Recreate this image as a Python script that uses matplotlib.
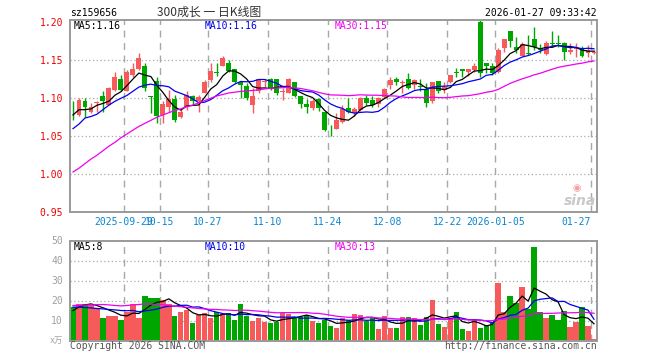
import numpy as np
import pandas as pd
import matplotlib
matplotlib.use("Agg")
import matplotlib.pyplot as plt

# daily candles 2025-09-16 .. 2026-01-27 (index 0..87), price in CNY
opens = [1.084, 1.077, 1.095, 1.081, 1.093, 1.102, 1.090, 1.110, 1.124, 1.108,
         1.129, 1.137, 1.141, 1.102, 1.122, 1.077, 1.088, 1.098, 1.074, 1.087,
         1.102, 1.095, 1.106, 1.123, 1.134, 1.142, 1.146, 1.137, 1.121, 1.115,
         1.090, 1.108, 1.120, 1.125, 1.124, 1.107, 1.106, 1.120, 1.102, 1.091,
         1.086, 1.098, 1.081, 1.059, 1.059, 1.068, 1.086, 1.079, 1.084, 1.100,
         1.097, 1.092, 1.101, 1.116, 1.124, 1.119, 1.124, 1.116, 1.115, 1.111,
         1.095, 1.122, 1.110, 1.120, 1.133, 1.137, 1.134, 1.136, 1.199, 1.145,
         1.141, 1.134, 1.165, 1.188, 1.166, 1.154, 1.159, 1.177, 1.164, 1.157,
         1.172, 1.171, 1.172, 1.160, 1.164, 1.165, 1.159, 1.1585]
highs = [1.095, 1.099, 1.099, 1.093, 1.095, 1.109, 1.114, 1.133, 1.130, 1.136,
         1.145, 1.159, 1.146, 1.102, 1.127, 1.095, 1.110, 1.103, 1.086, 1.108,
         1.103, 1.103, 1.123, 1.145, 1.146, 1.154, 1.150, 1.138, 1.121, 1.119,
         1.112, 1.125, 1.125, 1.126, 1.125, 1.113, 1.126, 1.121, 1.102, 1.098,
         1.098, 1.099, 1.081, 1.064, 1.079, 1.090, 1.099, 1.087, 1.101, 1.103,
         1.102, 1.101, 1.112, 1.127, 1.127, 1.123, 1.132, 1.125, 1.125, 1.119,
         1.121, 1.122, 1.120, 1.130, 1.139, 1.137, 1.138, 1.146, 1.202, 1.146,
         1.145, 1.165, 1.177, 1.188, 1.180, 1.173, 1.182, 1.193, 1.170, 1.174,
         1.187, 1.182, 1.173, 1.172, 1.172, 1.168, 1.169, 1.163]
lows = [1.071, 1.076, 1.075, 1.079, 1.081, 1.081, 1.090, 1.108, 1.108, 1.108,
        1.127, 1.136, 1.108, 1.079, 1.067, 1.066, 1.081, 1.068, 1.073, 1.084,
        1.090, 1.081, 1.106, 1.121, 1.128, 1.141, 1.134, 1.119, 1.099, 1.097,
        1.080, 1.106, 1.114, 1.110, 1.103, 1.097, 1.106, 1.101, 1.086, 1.079,
        1.084, 1.082, 1.056, 1.049, 1.058, 1.067, 1.079, 1.076, 1.082, 1.090,
        1.087, 1.088, 1.099, 1.111, 1.116, 1.106, 1.111, 1.111, 1.108, 1.088,
        1.093, 1.106, 1.106, 1.119, 1.127, 1.127, 1.128, 1.134, 1.127, 1.132,
        1.130, 1.132, 1.160, 1.166, 1.158, 1.154, 1.156, 1.162, 1.158, 1.156,
        1.166, 1.166, 1.150, 1.157, 1.153, 1.153, 1.153, 1.157]
closes = [1.083, 1.097, 1.088, 1.087, 1.094, 1.095, 1.112, 1.127, 1.110, 1.134,
          1.138, 1.152, 1.113, 1.101, 1.076, 1.092, 1.098, 1.070, 1.081, 1.103,
          1.096, 1.101, 1.121, 1.135, 1.132, 1.152, 1.135, 1.120, 1.116, 1.099,
          1.102, 1.125, 1.121, 1.112, 1.106, 1.109, 1.125, 1.102, 1.091, 1.087,
          1.095, 1.086, 1.057, 1.058, 1.070, 1.085, 1.081, 1.085, 1.100, 1.093,
          1.090, 1.099, 1.111, 1.123, 1.120, 1.120, 1.112, 1.123, 1.114, 1.093,
          1.121, 1.109, 1.114, 1.129, 1.132, 1.135, 1.137, 1.141, 1.132, 1.142,
          1.132, 1.163, 1.177, 1.175, 1.162, 1.171, 1.157, 1.167, 1.163, 1.172,
          1.171, 1.170, 1.160, 1.163, 1.165, 1.154, 1.163, 1.160]
# volume, 万手
volumes = [17.0, 18.2, 18.2, 17.8, 16.2, 11.5, 12.5, 12.5, 10.5, 14.5,
           18.5, 11.5, 22.5, 21.5, 21.5, 20.5, 18.2, 12.5, 14.5, 15.2,
           9.0, 12.8, 13.7, 11.2, 14.2, 13.5, 14.0, 10.2, 18.2, 12.5,
           9.7, 11.2, 9.5, 8.7, 9.2, 13.8, 13.3, 11.7, 12.0, 12.8,
           10.0, 8.7, 10.3, 7.5, 6.3, 11.3, 10.3, 13.5, 13.0, 10.0,
           11.3, 6.0, 12.5, 6.5, 6.5, 12.0, 12.0, 11.5, 8.0, 12.0,
           20.5, 8.5, 7.0, 11.3, 14.5, 6.0, 5.0, 11.0, 6.5, 8.0,
           9.5, 28.7, 14.2, 22.5, 18.7, 27.0, 16.0, 47.0, 14.5, 11.5,
           13.0, 10.5, 15.0, 7.0, 9.2, 17.0, 7.5, 1.0]

# moving-average values at the start of the window (need days before the window)
ma5_head = [1.077, 1.084, 1.084, 1.085]
ma10_head = [1.059, 1.065, 1.073, 1.075, 1.078, 1.084, 1.090, 1.095, 1.099]
ma30_head = [1.002, 1.007, 1.013, 1.019, 1.024, 1.030, 1.036, 1.041, 1.047, 1.052,
             1.057, 1.062, 1.066, 1.070, 1.074, 1.077, 1.080, 1.083, 1.085, 1.088,
             1.090, 1.093, 1.096, 1.099, 1.102, 1.104, 1.106, 1.107, 1.108]
vma5_head = [15.0, 16.7, 17.8, 18.3]
vma10_head = [16.7, 16.7, 16.5, 16.3, 16.0, 15.8, 15.5, 15.3, 15.0]
vma30_head = [17.5, 17.6, 17.7, 17.8, 17.9, 18.0, 17.8, 17.5, 17.3, 17.5,
              17.8, 18.0, 18.3, 18.2, 18.0, 17.8, 17.5, 17.2, 16.9, 16.6,
              16.3, 16.0, 15.8, 15.6, 15.5, 15.3, 15.2, 15.0, 15.1]

tick_pos = [9, 15, 23, 33, 43, 53, 63, 71, 87]
tick_labels = ["2025-09-29", "10-15", "10-27", "11-10", "11-24",
               "12-08", "12-22", "2026-01-05", "01-27"]
price_ticks = [0.95, 1.00, 1.05, 1.10, 1.15, 1.20]
vol_ticks = [10, 20, 30, 40, 50]

RED = "#F65A5A"
GREEN = "#00A600"
GRID = "#A8A8A8"
MONO = "DejaVu Sans Mono"


def moving_avg(values, n, head):
    m = pd.Series(values).rolling(n).mean().to_numpy()
    m[:n - 1] = head
    return m


o = np.array(opens); h = np.array(highs); l = np.array(lows); c = np.array(closes)
v = np.array(volumes)
x = np.arange(len(c)) + 0.5
up = c >= o
colors = np.where(up, RED, GREEN)

ma5 = moving_avg(c, 5, ma5_head)
ma10 = moving_avg(c, 10, ma10_head)
ma30 = moving_avg(c, 30, ma30_head)
vma5 = moving_avg(v, 5, vma5_head)
vma10 = moving_avg(v, 10, vma10_head)
vma30 = moving_avg(v, 30, vma30_head)

W, H = 660, 360
fig = plt.figure(figsize=(6.6, 3.6), dpi=100)


def box(left, top, right, bottom):
    return [left / W, 1 - bottom / H, (right - left) / W, (bottom - top) / H]


ax = fig.add_axes(box(70, 20, 597, 211.5))
axv = fig.add_axes(box(70, 240.5, 597, 340.5))

for a in (ax, axv):
    a.set_xlim(0, len(c))
    for s in a.spines.values():
        s.set_color("#9A9A9A")
        s.set_linewidth(1.4)
    for t in tick_pos:
        a.axvline(t, color=GRID, lw=1, ls=(0, (5, 4)), zorder=0)
    a.tick_params(length=0)

# price panel
ax.set_ylim(0.95, 1.2020)
for p in price_ticks[1:-1]:
    ax.axhline(p, color=GRID, lw=0.9, ls=(0, (1, 2)), zorder=0)
ax.vlines(x, l, h, colors=colors, lw=1, zorder=2)
body = np.maximum(np.abs(c - o), 0.0012)
ax.bar(x, body, bottom=np.minimum(o, c), width=0.82, color=colors, zorder=3)
ax.plot(x, ma5, color="black", lw=0.9, zorder=4)
ax.plot(x, ma10, color="#0000F0", lw=0.9, zorder=4)
ax.plot(x, ma30, color="#F000F0", lw=0.9, zorder=4)
ax.set_yticks(price_ticks)
ax.set_yticklabels([f"{p:.2f}" for p in price_ticks], color="#F00000",
                   family=MONO, fontsize=7)
ax.tick_params(axis="y", pad=5)
ax.set_xticks(tick_pos)
ax.set_xticklabels(tick_labels, color="#0A86CE", family=MONO, fontsize=7)
ax.tick_params(axis="x", pad=4)
ax.get_xticklabels()[-1].set_ha("right")

# volume panel
axv.set_ylim(0, 50)
for t in vol_ticks[:-1]:
    axv.axhline(t, color=GRID, lw=0.9, ls=(0, (1, 2)), zorder=0)
axv.bar(x, v, width=0.9, color=colors, zorder=2)
axv.plot(x, vma5, color="black", lw=0.9, zorder=3)
axv.plot(x, vma10, color="#0000F0", lw=0.9, zorder=3)
axv.plot(x, vma30, color="#F000F0", lw=0.9, zorder=3)
axv.set_yticks(vol_ticks)
axv.set_yticklabels([str(t) for t in vol_ticks], color="#A0A0A0",
                    family=MONO, fontsize=7)
axv.tick_params(axis="y", pad=5)
axv.set_xticks([])


def ftext(px, py, s, **kw):
    fig.text(px / W, 1 - py / H, s, va="center", **kw)


ftext(70, 12.5, "sz159656", family=MONO, fontsize=7, color="black")
ftext(209, 12, "300成长 一 日K线图", family=["Noto Sans CJK SC", "DejaVu Sans"],
      fontsize=8.6, color="#333333", ha="center")
ftext(597, 12.5, "2026-01-27 09:33:42", family=MONO, fontsize=7,
      color="black", ha="right")

ftext(74, 26, "MA5:1.16", family=MONO, fontsize=7, color="black")
ftext(205, 26, "MA10:1.16", family=MONO, fontsize=7, color="#0000F0")
ftext(335, 26, "MA30:1.15", family=MONO, fontsize=7, color="#F000F0")
ftext(74, 246.5, "MA5:8", family=MONO, fontsize=7, color="black")
ftext(205, 246.5, "MA10:10", family=MONO, fontsize=7, color="#0000F0")
ftext(335, 246.5, "MA30:13", family=MONO, fontsize=7, color="#F000F0")

ftext(63, 340, "x万", family=[MONO, "Noto Sans CJK SC"], fontsize=6,
      color="#A0A0A0", ha="right")
ftext(70, 346, "Copyright 2026 SINA.COM", family=MONO, fontsize=7, color="#555555")
ftext(597, 346, "http://finance.sina.com.cn", family=MONO, fontsize=7,
      color="#555555", ha="right")

# sina watermark
ftext(580, 201, "sina", family="DejaVu Sans", fontsize=10, fontweight="bold",
      style="italic", color="#C8C8C8", ha="center")
ftext(577, 188, "◉", family="DejaVu Sans", fontsize=7, color="#F4A0A0", ha="center")

fig.savefig("out.png", dpi=100)
